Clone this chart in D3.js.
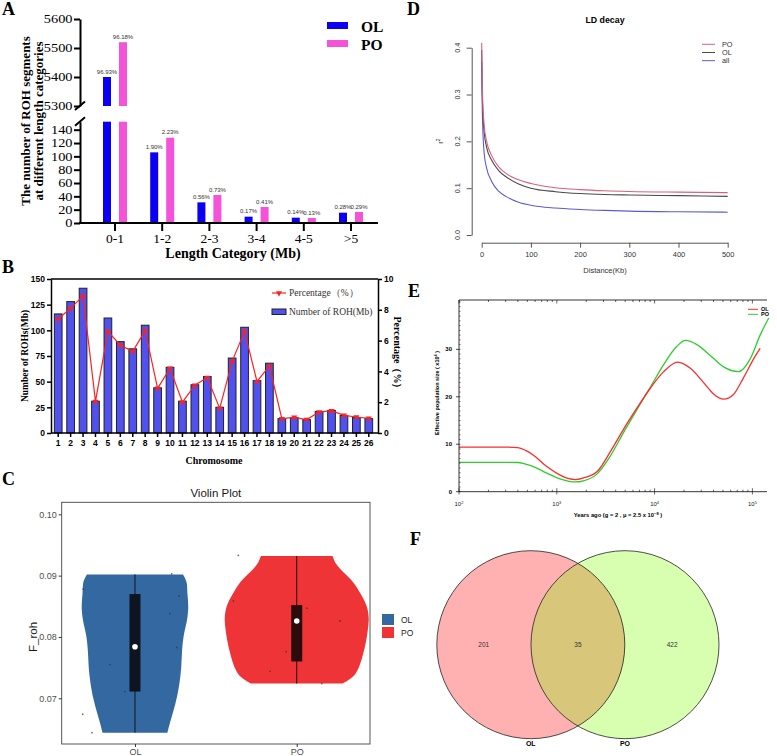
<!DOCTYPE html>
<html>
<head>
<meta charset="utf-8">
<script src="https://cdn.jsdelivr.net/npm/d3@7/dist/d3.min.js"></script>
<style>
html,body{margin:0;padding:0;background:#fff;}
svg{display:block;}
</style>
</head>
<body>
<svg id="fig" width="777" height="756" xmlns="http://www.w3.org/2000/svg"></svg>
<script>
// ================= DATA =================
// Panel A : ROH segments per length category
const lengthCategories = ["0-1", "1-2", "2-3", "3-4", "4-5", ">5"];
const rohSegmentsOL = [5400, 106, 31, 9.5, 8, 15.5];
const rohSegmentsPO = [5520, 128, 42, 24, 7.5, 16.5];
const rohShareOL = ["96.93%", "1.90%", "0.56%", "0.17%", "0.14%", "0.28%"];
const rohSharePO = ["96.18%", "2.23%", "0.73%", "0.41%", "0.13%", "0.29%"];
const upperTicksA = [5300, 5400, 5500, 5600];
const lowerTicksA = [0, 20, 40, 60, 80, 100, 120, 140];

// Panel B : ROH per chromosome
const chromosomes = ["1","2","3","4","5","6","7","8","9","10","11","12","13","14","15","16","17","18","19","20","21","22","23","24","25","26"];
const rohLengthMb = [116, 128, 141, 31, 112, 89, 82, 105, 44, 64, 31, 47, 55, 25, 73, 103, 51, 68, 14, 15, 13, 21, 22, 17, 15, 14];
const rohPercent = [7.4, 8.1, 8.9, 2.05, 6.6, 5.7, 5.3, 6.65, 2.9, 4.2, 2.0, 3.1, 3.6, 1.6, 4.65, 6.6, 3.35, 4.35, 0.93, 1.02, 0.87, 1.36, 1.45, 1.15, 1.04, 0.95];
const leftTicksB = [0, 25, 50, 75, 100, 125, 150];
const rightTicksB = [0, 2, 4, 6, 8, 10];

// Panel C : violin plot of F_roh
const violinGroups = ["OL", "PO"];
const frohOL = [0.0903, 0.0878, 0.0867, 0.0838, 0.0783, 0.0755, 0.0711, 0.0674, 0.0644];
const jitterOL = [0.227, -0.32, 0.272, 0.216, 0.258, -0.155, -0.062, -0.323, -0.266];
const frohPO = [0.0933, 0.0859, 0.0847, 0.0826, 0.0776, 0.0744, 0.0724];
const jitterPO = [-0.361, -0.392, 0.062, 0.268, -0.066, -0.165, 0.155];
const boxStatsOL = [0.0644, 0.0711, 0.0784, 0.0870, 0.0902]; // min, q1, median, q3, max
const boxStatsPO = [0.0724, 0.0760, 0.0826, 0.0852, 0.0932];
const densityGridOL = [0.0644, 0.0660, 0.0680, 0.0700, 0.0725, 0.0750, 0.0775, 0.0800, 0.0830, 0.0850, 0.0870, 0.0890, 0.0902];
const densityOL = [0.451, 0.486, 0.535, 0.579, 0.618, 0.642, 0.653, 0.674, 0.726, 0.740, 0.729, 0.715, 0.667];
const densityGridPO = [0.0724, 0.0735, 0.0750, 0.0770, 0.0790, 0.0810, 0.0830, 0.0850, 0.0870, 0.0890, 0.0910, 0.0920, 0.0932];
const densityPO = [0.639, 0.778, 0.861, 0.917, 0.958, 0.986, 1.0, 0.972, 0.889, 0.778, 0.611, 0.542, 0.497];
const ticksC = [0.07, 0.08, 0.09, 0.10];

// Panel D : LD decay
const ldDistanceKb = [0, 1, 2, 5, 10, 20, 35, 50, 75, 100, 150, 200, 250, 300, 400, 500];
const ldPO  = [0.41, 0.33, 0.29, 0.235, 0.200, 0.170, 0.145, 0.131, 0.118, 0.110, 0.101, 0.097, 0.0945, 0.093, 0.0915, 0.0905];
const ldOL  = [0.395, 0.31, 0.27, 0.22, 0.187, 0.160, 0.137, 0.124, 0.109, 0.100, 0.0925, 0.0885, 0.0865, 0.0855, 0.0840, 0.0825];
const ldAll = [0.37, 0.28, 0.235, 0.175, 0.143, 0.115, 0.093, 0.082, 0.070, 0.0635, 0.0575, 0.0545, 0.0525, 0.051, 0.0495, 0.0487];
const ticksDx = [0, 100, 200, 300, 400, 500];
const ticksDy = [0, 0.1, 0.2, 0.3, 0.4];

// Panel E : effective population size (PSMC)
const yearsOL = [100, 200, 300, 400, 480, 577, 790, 1080, 1300, 1550, 1870, 2570, 3520, 4820, 6590, 9030, 12370, 17200, 23200, 31700, 40000, 50800, 64000, 81000, 103000, 120000];
const neOL    = [9.4, 9.4, 9.4, 9.3, 8.7, 7.7, 5.3, 3.5, 2.8, 2.55, 2.9, 4.2, 8.4, 13.2, 17.6, 21.8, 25.3, 27.3, 26.0, 23.0, 20.6, 19.5, 20.5, 24.0, 28.0, 30.2];
const yearsPO = [100, 200, 300, 400, 480, 577, 790, 1080, 1300, 1550, 1870, 2570, 3520, 4820, 6590, 9030, 12370, 16800, 20600, 27100, 37100, 50800, 72000, 95000, 120000, 147000];
const nePO    = [6.2, 6.2, 6.2, 6.15, 5.8, 5.3, 3.9, 2.7, 2.25, 2.05, 2.3, 3.7, 7.5, 12.5, 17.3, 22.0, 26.8, 30.6, 31.9, 31.0, 28.7, 26.3, 25.3, 28.0, 33.0, 36.6];
const ticksEy = [0, 10, 20, 30];
const decadesE = [100, 1000, 10000, 100000];

// Panel F : Venn diagram
const vennSets = ["OL", "PO"];
const vennCounts = [201, 35, 422]; // OL only, shared, PO only

// ================= DRAWING =================
const svg = d3.select("#fig");
const SERIF = "'Liberation Serif','Times New Roman',Times,serif";
const SANS = "'Liberation Sans',Arial,Helvetica,sans-serif";

function txt(g, s, x, y, size, opt = {}) {
  const t = g.append("text").attr("x", x).attr("y", y).attr("font-size", size)
    .attr("font-family", opt.family || SANS).attr("fill", opt.fill || "#000")
    .attr("text-anchor", opt.anchor || "start");
  if (opt.weight) t.attr("font-weight", opt.weight);
  if (opt.rotate != null) t.attr("transform", `rotate(${opt.rotate},${x},${y})`);
  if (s != null) t.text(s);
  return t;
}
function styleAxis(a, o) {
  a.select(".domain").attr("stroke", o.stroke || "#000").attr("stroke-width", o.sw || 1);
  a.selectAll(".tick line").attr("stroke", o.stroke || "#000").attr("stroke-width", o.sw || 1);
  a.selectAll(".tick text").attr("font-family", o.family || SANS).attr("font-size", o.size || 10)
    .attr("fill", o.fill || "#000").attr("font-weight", o.weight || null);
}
function panelLabel(s, x, y) { txt(svg, s, x, y, 18, { family: SERIF, weight: "bold" }); }

// ---------- Panel A ----------
{
  const g = svg.append("g");
  panelLabel("A", 2, 15);
  const x = d3.scaleBand().domain(lengthCategories).range([91.4, 374.6]);
  const xs = d3.scaleBand().domain(["OL", "PO"]).range([-16, 16]).paddingInner(0.5).paddingOuter(0.25);
  const yLow = d3.scaleLinear().domain([0, 152]).range([223, 121.7]);
  const yUp = d3.scaleLinear().domain([5300, 5600]).range([106, 19]);
  const col = { OL: "#0b00f4", PO: "#f552da" };
  const series = [{ k: "OL", v: rohSegmentsOL, p: rohShareOL }, { k: "PO", v: rohSegmentsPO, p: rohSharePO }];
  series.forEach(s => {
    lengthCategories.forEach((c, i) => {
      const v = s.v[i];
      const bx = x(c) + x.bandwidth() / 2 + xs(s.k);
      const bw = xs.bandwidth();
      const yl = yLow(Math.min(v, yLow.domain()[1]));
      g.append("rect").attr("x", bx).attr("y", yl).attr("width", bw).attr("height", yLow(0) - yl).attr("fill", col[s.k]);
      let top = yl;
      if (v > yUp.domain()[0]) {
        top = yUp(v);
        g.append("rect").attr("x", bx).attr("y", top).attr("width", bw).attr("height", yUp(yUp.domain()[0]) - top).attr("fill", col[s.k]);
      }
      txt(g, s.p[i], bx + bw / 2, top - 3.5, 6, { anchor: "middle", fill: "#333" });
    });
  });
  const fmt = d3.format("d");
  const axLow = g.append("g").attr("transform", "translate(80,0)")
    .call(d3.axisLeft(yLow).tickValues(lowerTicksA).tickFormat(fmt).tickSize(6).tickSizeOuter(0).tickPadding(0));
  const axUp = g.append("g").attr("transform", "translate(80,0)")
    .call(d3.axisLeft(yUp).tickValues(upperTicksA).tickFormat(fmt).tickSize(6).tickSizeOuter(0).tickPadding(0));
  [axLow, axUp].forEach(a => {
    styleAxis(a, { sw: 2, family: SERIF, size: 11.5 });
    a.selectAll(".tick text").attr("transform", "scale(1.25,1)");
  });
  // axis break marks
  [yUp(5300), yLow(152)].forEach(yy => {
    g.append("line").attr("x1", 75).attr("y1", yy + 4).attr("x2", 85).attr("y2", yy - 4.5)
      .attr("stroke", "#000").attr("stroke-width", 2);
  });
  // x axis
  g.append("line").attr("x1", 79).attr("x2", 378).attr("y1", yLow(0)).attr("y2", yLow(0)).attr("stroke", "#000").attr("stroke-width", 2);
  const axX = g.append("g").attr("transform", `translate(0,${yLow(0)})`)
    .call(d3.axisBottom(x).tickSize(8).tickSizeOuter(0).tickPadding(2));
  axX.select(".domain").remove();
  styleAxis(axX, { sw: 2, family: SERIF, size: 13.5 });
  txt(g, "Length Category (Mb)", 233, 258, 14, { family: SERIF, weight: "bold", anchor: "middle" });
  txt(g, "The number of ROH segments", 30, 121, 13, { family: SERIF, weight: "bold", anchor: "middle", rotate: -90 });
  txt(g, "at different length categories", 43, 121, 13, { family: SERIF, weight: "bold", anchor: "middle", rotate: -90 });
  // legend
  [["OL", 22], ["PO", 40]].forEach(([k, yy]) => {
    g.append("rect").attr("x", 327).attr("y", yy).attr("width", 21).attr("height", 7).attr("fill", col[k]);
    txt(g, k, 361, yy + 10, 15.5, { family: SERIF, weight: "bold" });
  });
}

// ---------- Panel B ----------
{
  const g = svg.append("g");
  panelLabel("B", 2, 273);
  const x = d3.scaleBand().domain(chromosomes).range([52, 375]).paddingInner(0.38).paddingOuter(0.19);
  const y = d3.scaleLinear().domain([0, 150]).range([433, 279]);
  const y2 = d3.scaleLinear().domain([0, 10]).range([433, 279]);
  chromosomes.forEach((c, i) => {
    g.append("rect").attr("x", x(c)).attr("y", y(rohLengthMb[i])).attr("width", x.bandwidth())
      .attr("height", y(0) - y(rohLengthMb[i])).attr("fill", "#5151f0").attr("stroke", "#222").attr("stroke-width", 1);
  });
  const line = d3.line().x((d, i) => x(chromosomes[i]) + x.bandwidth() / 2).y(d => y2(d));
  g.append("path").attr("d", line(rohPercent)).attr("fill", "none").attr("stroke", "#ff2020").attr("stroke-width", 1.2);
  const tri = d3.symbol(d3.symbolTriangle, 16);
  rohPercent.forEach((p, i) => {
    g.append("path").attr("d", tri()).attr("fill", "#ff2020")
      .attr("transform", `translate(${x(chromosomes[i]) + x.bandwidth() / 2},${y2(p)}) rotate(180)`);
  });
  const aL = g.append("g").attr("transform", "translate(51,0)").call(d3.axisLeft(y).tickValues(leftTicksB).tickSize(4).tickSizeOuter(0).tickPadding(2));
  styleAxis(aL, { sw: 1.5, size: 8.5, weight: "bold" });
  const aR = g.append("g").attr("transform", "translate(378,0)").call(d3.axisRight(y2).tickValues(rightTicksB).tickSize(4).tickSizeOuter(0).tickPadding(2));
  styleAxis(aR, { sw: 1.5, size: 8.5, weight: "bold" });
  const aB = g.append("g").attr("transform", "translate(0,433)").call(d3.axisBottom(x).tickSize(4).tickSizeOuter(0).tickPadding(3));
  aB.select(".domain").remove();
  styleAxis(aB, { sw: 1.5, size: 8.5, weight: "bold" });
  g.append("line").attr("x1", 51).attr("x2", 378).attr("y1", 433).attr("y2", 433).attr("stroke", "#000").attr("stroke-width", 1.5);
  g.append("line").attr("x1", 51).attr("x2", 378).attr("y1", 279).attr("y2", 279).attr("stroke", "#000").attr("stroke-width", 1.5);
  txt(g, "Number of ROHs(Mb)", 28, 356, 9.5, { family: SERIF, weight: "bold", anchor: "middle", rotate: -90 });
  txt(g, "Percentage（%）", 394, 355, 10, { family: SERIF, weight: "bold", anchor: "middle", rotate: 90 });
  txt(g, "Chromosome", 214, 464, 10, { family: SERIF, weight: "bold", anchor: "middle" });
  // legend
  g.append("line").attr("x1", 272).attr("x2", 286).attr("y1", 293).attr("y2", 293).attr("stroke", "#ff2020").attr("stroke-width", 1.2);
  g.append("path").attr("d", tri()).attr("fill", "#ff2020").attr("transform", "translate(279,293) rotate(180)");
  txt(g, "Percentage（%）", 289, 296, 9.5, { family: SERIF, fill: "#333" });
  g.append("rect").attr("x", 272).attr("y", 309).attr("width", 14).attr("height", 5.5).attr("fill", "#5151f0").attr("stroke", "#222").attr("stroke-width", 1);
  txt(g, "Number of ROH(Mb)", 289, 315, 9.5, { family: SERIF, fill: "#333" });
}

// ---------- Panel C ----------
{
  const g = svg.append("g");
  panelLabel("C", 2, 485);
  const left = 61.7, right = 370, top = 502.3, bottom = 744;
  const x = d3.scalePoint().domain(violinGroups).range([left, right]).padding(0.453);
  const y = d3.scaleLinear().domain([0.07, 0.10]).range([698.3, 514.3]);
  const w = d3.scaleLinear().domain([0, 1]).range([0, 72]);
  const step = x.step();
  const groups = [
    { k: "OL", grid: densityGridOL, dens: densityOL, box: boxStatsOL, pts: frohOL, jit: jitterOL, fill: "#3468a0", boxFill: "#0e1520" },
    { k: "PO", grid: densityGridPO, dens: densityPO, box: boxStatsPO, pts: frohPO, jit: jitterPO, fill: "#ef3437", boxFill: "#2b0c0c" }
  ];
  groups.forEach(gr => {
    const cx = x(gr.k);
    const area = d3.area().curve(d3.curveCatmullRom)
      .y(d => y(d[0])).x0(d => cx - w(d[1])).x1(d => cx + w(d[1]));
    g.append("path").attr("d", area(gr.grid.map((v, i) => [v, gr.dens[i]]))).attr("fill", gr.fill);
    gr.pts.forEach((p, i) => {
      g.append("circle").attr("cx", cx + gr.jit[i] * step).attr("cy", y(p)).attr("r", 0.9).attr("fill", "#333").attr("opacity", 0.7);
    });
    g.append("line").attr("x1", cx).attr("x2", cx).attr("y1", y(gr.box[0])).attr("y2", y(gr.box[4])).attr("stroke", gr.boxFill).attr("stroke-width", 1);
    g.append("rect").attr("x", cx - 5.5).attr("width", 11).attr("y", y(gr.box[3])).attr("height", y(gr.box[1]) - y(gr.box[3])).attr("fill", gr.boxFill);
    g.append("circle").attr("cx", cx).attr("cy", y(gr.box[2])).attr("r", 2.8).attr("fill", "#fff");
  });
  g.append("rect").attr("x", left).attr("y", top).attr("width", right - left).attr("height", bottom - top)
    .attr("fill", "none").attr("stroke", "#444").attr("stroke-width", 0.9);
  const aL = g.append("g").attr("transform", `translate(${left},0)`).call(d3.axisLeft(y).tickValues(ticksC).tickFormat(d3.format(".2f")).tickSize(3).tickPadding(2));
  aL.select(".domain").remove();
  styleAxis(aL, { stroke: "#333", size: 9, fill: "#4d4d4d" });
  const aB = g.append("g").attr("transform", `translate(0,${bottom})`).call(d3.axisBottom(x).tickSize(3).tickPadding(2));
  aB.select(".domain").remove();
  styleAxis(aB, { stroke: "#333", size: 9, fill: "#4d4d4d" });
  txt(g, "Violin Plot", (left + right) / 2, 497, 11.5, { anchor: "middle", fill: "#1a1a1a" });
  txt(g, "F_roh", 37, y(0.08), 11.5, { anchor: "middle", fill: "#1a1a1a", rotate: -90 });
  // legend
  [["OL", "#3468a0", 614], ["PO", "#ef3437", 627]].forEach(([k, c, yy]) => {
    g.append("rect").attr("x", 382).attr("y", yy).attr("width", 12).attr("height", 11).attr("fill", c);
    txt(g, k, 401, yy + 8.5, 8.5, { fill: "#222" });
  });
}

// ---------- Panel D ----------
{
  const g = svg.append("g");
  panelLabel("D", 407, 15);
  const x = d3.scaleLinear().domain([0, 500]).range([481.7, 727.7]);
  const y = d3.scaleLinear().domain([0, 0.4]).range([235, 47.7]);
  const lines = [["PO", ldPO, "#d9607b"], ["OL", ldOL, "#4a4a4a"], ["all", ldAll, "#5b5bd0"]];
  const ln = d3.line().curve(d3.curveMonotoneX).x((d, i) => x(ldDistanceKb[i])).y(d => y(d));
  lines.slice().reverse().forEach(([k, arr, c]) => {
    g.append("path").attr("d", ln(arr)).attr("fill", "none").attr("stroke", c).attr("stroke-width", 1.1);
  });
  const aL = g.append("g").attr("transform", "translate(471.7,0)").call(d3.axisLeft(y).tickValues(ticksDy).tickSize(5).tickSizeOuter(0).tickFormat(""));
  styleAxis(aL, { stroke: "#555" });
  ticksDy.forEach(v => txt(g, d3.format(".1f")(v), 460, y(v), 7.3, { anchor: "middle", fill: "#333", rotate: -90 }));
  const aB = g.append("g").attr("transform", "translate(0,242.7)").call(d3.axisBottom(x).tickValues(ticksDx).tickSize(5).tickSizeOuter(0).tickPadding(4));
  styleAxis(aB, { stroke: "#555", size: 7.5, fill: "#333" });
  txt(g, "LD decay", 605, 23, 8.8, { anchor: "middle", weight: "bold" });
  txt(g, "Distance(Kb)", 605, 273, 7.5, { anchor: "middle", fill: "#333" });
  const r2 = txt(g, null, 443, 141, 7.5, { anchor: "middle", fill: "#333", rotate: -90 });
  r2.append("tspan").text("r");
  r2.append("tspan").attr("dy", -3).attr("font-size", 5).text("2");
  lines.forEach(([k, arr, c], i) => {
    const yy = 44.3 + i * 8.2;
    g.append("line").attr("x1", 702).attr("x2", 715).attr("y1", yy).attr("y2", yy).attr("stroke", c).attr("stroke-width", 1);
    txt(g, k, 722, yy + 2.6, 7.3, { fill: "#333" });
  });
}

// ---------- Panel E ----------
{
  const g = svg.append("g");
  panelLabel("E", 408, 297);
  const x = d3.scaleLog().domain([100, 141000]).range([459, 767]);
  const y = d3.scaleLinear().domain([0, 40.4]).range([491.7, 300]);
  const ln = d3.line().curve(d3.curveMonotoneX);
  g.append("path").attr("d", ln(yearsPO.map((t, i) => [x(t), y(nePO[i])]))).attr("fill", "none").attr("stroke", "#2ecc2e").attr("stroke-width", 1.3);
  g.append("path").attr("d", ln(yearsOL.map((t, i) => [x(t), y(neOL[i])]))).attr("fill", "none").attr("stroke", "#ff2b2b").attr("stroke-width", 1.3);
  // frame lines
  g.append("line").attr("x1", 459).attr("x2", 767).attr("y1", 300).attr("y2", 300).attr("stroke", "#000").attr("stroke-width", 0.8);
  g.append("line").attr("x1", 459).attr("x2", 767).attr("y1", 491.7).attr("y2", 491.7).attr("stroke", "#000").attr("stroke-width", 0.8);
  g.append("line").attr("x1", 459).attr("x2", 459).attr("y1", 300).attr("y2", 491.7).attr("stroke", "#000").attr("stroke-width", 0.8);
  x.ticks().forEach(t => {
    const major = decadesE.includes(t);
    const len = major ? 3.5 : 2;
    g.append("line").attr("x1", x(t)).attr("x2", x(t)).attr("y1", 300).attr("y2", 300 + len).attr("stroke", "#000").attr("stroke-width", 0.6);
    g.append("line").attr("x1", x(t)).attr("x2", x(t)).attr("y1", 491.7).attr("y2", 491.7 - len).attr("stroke", "#000").attr("stroke-width", 0.6);
    if (major) g.append("line").attr("x1", x(t)).attr("x2", x(t)).attr("y1", 491.7).attr("y2", 494.5).attr("stroke", "#000").attr("stroke-width", 0.6);
  });
  d3.range(0, 41, 1).forEach(v => {
    g.append("line").attr("x1", 459).attr("x2", 460.6).attr("y1", y(v)).attr("y2", y(v)).attr("stroke", "#000").attr("stroke-width", 0.5);
  });
  ticksEy.forEach(v => {
    g.append("line").attr("x1", 456).attr("x2", 459).attr("y1", y(v)).attr("y2", y(v)).attr("stroke", "#000").attr("stroke-width", 0.7);
    txt(g, String(v), 452, y(v) + 2, 6, { anchor: "end", weight: "bold" });
  });
  decadesE.forEach(t => {
    const tt = txt(g, null, x(t), 506, 6, { anchor: "middle", fill: "#222" });
    tt.append("tspan").text("10");
    tt.append("tspan").attr("dy", -2.5).attr("font-size", 4).text(String(Math.round(Math.log10(t))));
  });
  const xt = txt(g, null, 618, 517, 5.8, { anchor: "middle", weight: "bold" });
  xt.append("tspan").text("Years ago (g = 2 , μ = 2.5 x 10");
  xt.append("tspan").attr("dy", -2.5).attr("font-size", 4).text("−8");
  xt.append("tspan").attr("dy", 2.5).text(" )");
  const yt = txt(g, null, 439, 393, 5.5, { anchor: "middle", weight: "bold", rotate: -90 });
  yt.append("tspan").text("Effective population size ( x10");
  yt.append("tspan").attr("dy", -2.2).attr("font-size", 3.8).text("4");
  yt.append("tspan").attr("dy", 2.2).text(" )");
  [["OL", "#ff2b2b", 309.3], ["PO", "#2ecc2e", 314.3]].forEach(([k, c, yy]) => {
    g.append("line").attr("x1", 748).attr("x2", 758).attr("y1", yy).attr("y2", yy).attr("stroke", c).attr("stroke-width", 1);
    txt(g, k, 761, yy + 2, 5.5, { weight: "bold" });
  });
}

// ---------- Panel F ----------
{
  const g = svg.append("g");
  panelLabel("F", 410, 545);
  const x = d3.scalePoint().domain(vennSets).range([530.8, 625]);
  const cy = 644.7, r = 94;
  const defs = g.append("defs");
  defs.append("clipPath").attr("id", "clipOL").append("circle").attr("cx", x("OL")).attr("cy", cy).attr("r", r);
  g.append("circle").attr("cx", x("OL")).attr("cy", cy).attr("r", r).attr("fill", "#ffb1b1");
  g.append("circle").attr("cx", x("PO")).attr("cy", cy).attr("r", r).attr("fill", "#d8ffb0");
  g.append("circle").attr("cx", x("PO")).attr("cy", cy).attr("r", r).attr("fill", "#d8c67b").attr("clip-path", "url(#clipOL)");
  vennSets.forEach(k => {
    g.append("circle").attr("cx", x(k)).attr("cy", cy).attr("r", r).attr("fill", "none").attr("stroke", "#222").attr("stroke-width", 0.8);
    txt(g, k, x(k), 746, 7, { anchor: "middle", weight: "bold" });
  });
  const d = x("PO") - x("OL");
  const pos = [x("OL") - d / 2, (x("OL") + x("PO")) / 2, x("PO") + d / 2];
  vennCounts.forEach((c, i) => txt(g, String(c), pos[i], cy + 2.5, 6.5, { anchor: "middle", fill: "#333" }));
}
</script>
</body>
</html>
